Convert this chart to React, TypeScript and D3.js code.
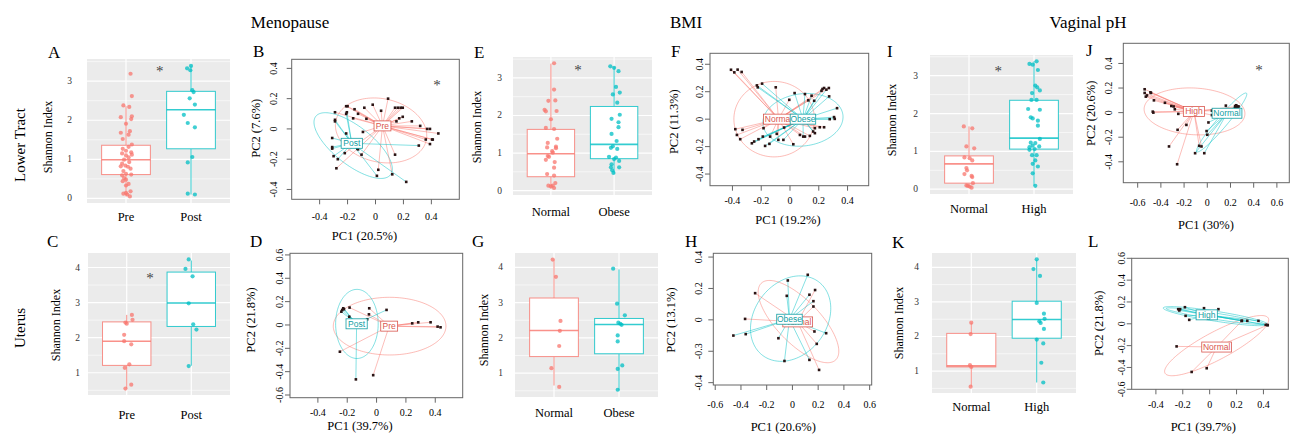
import React from 'react';
import * as d3 from 'd3';

const RED = '#F8766D';
const CYAN = '#00BFC4';
const RED_TXT = '#D9564E';
const CYAN_TXT = '#119EA3';
const SERIF = '"Liberation Serif", "Times New Roman", serif';
const SANS = '"Liberation Sans", Arial, sans-serif';

// ---------- titles ----------
const groupTitles = ['Menopause', 'BMI', 'Vaginal pH'];
const rowTitles = ['Lower Tract', 'Uterus'];

// ---------- box plot data: stats = [lowWhisker, q1, median, q3, highWhisker]; points = [value, jitter] ----------
const A_categories = ['Pre', 'Post'];
const A_stats = [[0.05, 0.61, 0.99, 1.36, 2.36], [0.1, 1.27, 2.27, 2.74, 3.4]];
const A_pre = [[3.19,0.07],[2.62,0.09],[2.38,-0.04],[2.34,0.05],[2.08,-0.08],[2.10,0.09],[2.03,0.08],[1.91,0.0],[1.72,0.06],[1.63,0.04],[1.68,-0.08],[1.52,-0.05],[1.38,0.09],[1.32,0.04],[1.27,-0.05],[1.22,0.0],[1.18,0.08],[1.15,-0.06],[1.12,0.09],[1.10,0.0],[1.05,0.04],[0.99,-0.03],[0.93,0.05],[0.89,-0.06],[0.84,-0.01],[0.82,-0.08],[0.81,0.03],[0.76,0.07],[0.70,-0.04],[0.63,0.0],[0.59,-0.06],[0.61,0.08],[0.52,-0.03],[0.44,-0.05],[0.48,0.0],[0.37,0.04],[0.33,0.0],[0.18,0.07],[0.14,0.0],[0.10,0.02],[0.05,0.06],[0.12,-0.04]];
const A_post = [[3.33,-0.06],[3.39,0.0],[3.28,-0.01],[2.77,0.02],[2.72,0.04],[2.56,-0.02],[2.40,0.06],[2.14,-0.11],[1.93,-0.05],[1.82,0.06],[1.06,0.02],[0.92,-0.05],[0.12,-0.05],[0.10,0.06]];

const E_categories = ['Normal', 'Obese'];
const E_stats = [[0.05, 0.37, 0.98, 1.63, 3.38], [0.45, 0.85, 1.23, 2.24, 3.3]];
const E_normal = [[3.39,0.05],[2.69,0.05],[2.39,-0.04],[2.40,0.07],[2.15,-0.1],[2.11,-0.08],[2.12,0.09],[1.90,0.0],[1.67,-0.08],[1.64,0.05],[1.38,0.1],[1.27,-0.05],[1.17,0.08],[1.13,0.08],[1.15,-0.06],[1.05,0.02],[1.01,0.03],[0.92,-0.05],[0.90,-0.03],[0.82,-0.08],[0.76,0.06],[0.61,0.05],[0.44,-0.06],[0.40,0.05],[0.20,0.07],[0.13,-0.04],[0.13,0.03],[0.07,0.05],[0.11,0.0]];
const E_obese = [[3.31,-0.06],[3.27,0.0],[3.18,0.07],[2.76,0.03],[2.61,0.09],[2.56,-0.02],[2.34,0.05],[2.02,0.09],[1.91,-0.04],[1.82,0.07],[1.69,0.07],[1.51,-0.04],[1.32,0.04],[1.18,-0.02],[1.11,0.05],[1.14,-0.05],[0.90,-0.08],[0.88,0.03],[0.84,0.0],[0.79,0.08],[0.70,-0.04],[0.62,-0.05],[0.62,0.08],[0.54,-0.03],[0.47,-0.01]];

const I_categories = ['Normal', 'High'];
const I_stats = [[0.04, 0.16, 0.67, 0.88, 1.66], [0.09, 1.06, 1.35, 2.35, 3.38]];
const I_normal = [[1.66,-0.08],[1.61,0.05],[1.13,-0.04],[1.08,0.08],[0.84,-0.07],[0.82,0.01],[0.76,0.05],[0.56,-0.04],[0.50,-0.03],[0.40,-0.07],[0.35,0.04],[0.32,0.05],[0.16,0.06],[0.10,-0.04],[0.07,0.01],[0.04,0.04],[0.09,-0.02]];
const I_high = [[3.31,-0.07],[3.29,-0.02],[3.38,0.04],[3.15,0.06],[2.74,0.02],[2.69,0.05],[2.61,0.09],[2.54,-0.03],[2.36,-0.04],[2.36,0.04],[2.12,-0.09],[2.10,0.09],[1.90,-0.05],[1.87,-0.02],[1.81,0.06],[1.68,0.06],[1.33,0.09],[1.23,-0.05],[1.22,0.02],[1.15,-0.02],[1.11,-0.07],[1.13,0.08],[1.06,0.01],[0.90,-0.03],[0.90,0.04],[0.76,0.02],[0.67,-0.02],[0.60,0.06],[0.42,-0.02],[0.09,0.02],[1.04,-0.07]];

const C_categories = ['Pre', 'Post'];
const C_stats = [[0.55, 1.21, 1.9, 2.45, 2.65], [1.2, 2.32, 2.99, 3.87, 4.2]];
const C_pre = [[2.65,0.08],[2.51,0.09],[2.43,-0.02],[2.40,0.0],[2.08,-0.04],[1.90,-0.04],[1.81,0.07],[1.24,0.04],[1.14,-0.03],[0.66,0.07],[0.55,-0.02]];
const C_post = [[4.23,-0.04],[3.96,-0.09],[3.75,0.02],[2.98,-0.04],[2.38,0.03],[2.23,0.08],[1.19,-0.04]];

const G_categories = ['Normal', 'Obese'];
const G_stats = [[0.65, 1.47, 2.21, 3.13, 4.22], [0.51, 1.55, 2.38, 2.55, 3.94]];
const G_normal = [[4.22,-0.02],[3.73,0.03],[2.48,0.1],[2.20,0.09],[1.77,0.08],[1.14,-0.04],[0.61,0.08]];
const G_obese = [[3.96,-0.09],[2.97,-0.03],[2.64,0.09],[2.43,-0.01],[2.40,0.02],[2.37,0.04],[2.07,-0.02],[1.90,-0.02],[1.22,0.05],[1.12,-0.02],[0.53,-0.02]];

const K_categories = ['Normal', 'High'];
const K_stats = [[0.55, 1.12, 1.15, 2.09, 2.4], [0.67, 1.95, 2.49, 3.02, 4.22]];
const K_normal = [[2.40,0.0],[2.07,-0.01],[1.17,-0.02],[1.12,0.0],[0.55,-0.01]];
const K_high = [[4.23,0.0],[3.95,-0.05],[3.75,0.05],[2.97,0.0],[2.66,0.11],[2.51,0.12],[2.44,0.04],[2.39,0.06],[2.22,0.11],[1.91,0.0],[1.80,0.1],[1.24,0.07],[0.67,0.1]];

const lowerTicks = [0, 1, 2, 3];
const upperTicks = [1, 2, 3, 4];

// ---------- PCA data: points [PC1, PC2], centroids, ellipses {c, a, b, angle} ----------
const B_pre = [[-0.29,0.11],[-0.21,0.15],[-0.2,0.15],[-0.15,0.13],[-0.125,0.10],[-0.08,0.14],[-0.02,0.16],[0.09,0.20],[0.04,0.12],[0.14,0.14],[0.16,0.14],[0.18,0.14],[0.195,0.14],[0.17,0.07],[0.195,0.08],[0.15,0.05],[0.26,0.05],[0.32,0.02],[0.37,0.0],[0.39,0.0],[0.45,-0.03],[0.36,-0.07],[0.405,-0.07],[0.41,-0.07],[0.39,-0.10],[0.14,-0.17],[0.02,-0.27],[0.12,-0.30],[-0.09,-0.02],[-0.10,-0.17],[-0.28,-0.26],[-0.22,-0.16],[-0.16,0.07],[-0.065,0.067]];
const B_post = [[-0.29,0.06],[-0.29,0.05],[-0.31,-0.06],[-0.31,-0.12],[-0.31,-0.13],[-0.30,-0.18],[-0.27,-0.20],[-0.21,0.10],[-0.205,0.11],[-0.21,-0.03],[-0.13,-0.13],[-0.125,-0.135],[0.01,-0.31],[0.22,-0.35],[0.31,-0.11]];
const B_centroids = [[0.05, 0.02], [-0.17, -0.095]];
const B_ellipses = [{ c: [0.04, -0.01], a: 0.33, b: 0.21, angle: -10 }, { c: [-0.16, -0.11], a: 0.33, b: 0.13, angle: -35 }];

const F_normal = [[-0.41,0.36],[-0.387,0.341],[-0.364,0.361],[-0.336,0.344],[-0.099,0.232],[-0.005,0.141],[0.127,0.137],[0.219,0.207],[0.237,0.227],[0.27,0.227],[-0.38,-0.073],[-0.369,-0.115],[-0.346,-0.146],[-0.33,-0.078],[-0.184,-0.066],[-0.138,-0.127],[-0.092,-0.107],[-0.081,-0.151],[0.023,-0.183],[0.104,-0.127],[0.138,-0.122],[0.173,-0.066],[0.207,-0.059],[0.237,-0.059],[0.069,-0.115]];
const F_obese = [[-0.23,0.246],[-0.224,0.232],[-0.194,0.259],[0.032,0.19],[0.104,0.183],[0.15,0.171],[0.168,0.134],[0.226,0.22],[0.253,0.215],[0.272,0.166],[0.327,0.08],[0.276,0.0],[0.306,0.015],[0.311,0.002],[-0.265,-0.176],[-0.249,-0.163],[-0.219,-0.146],[-0.189,-0.127],[-0.173,-0.195],[-0.143,-0.18],[-0.046,-0.151],[-0.041,-0.061],[0.161,-0.09],[0.173,-0.102],[0.092,-0.127]];
const F_centroids = [[-0.08, 0.0], [0.09, 0.0]];
const F_ellipses = [{ c: [-0.11, 0.0], a: 0.28, b: 0.275, angle: 0 }, { c: [0.09, -0.005], a: 0.28, b: 0.19, angle: 8 }];

const J_high = [[-0.54,0.19],[-0.54,0.16],[-0.52,0.14],[-0.53,0.13],[-0.49,0.165],[-0.485,0.16],[-0.46,0.10],[-0.365,0.08],[-0.31,0.054],[-0.29,0.05],[-0.28,0.027],[-0.47,0.008],[-0.465,0.0],[-0.25,-0.01],[-0.256,-0.14],[-0.18,-0.10],[-0.33,-0.275],[-0.26,-0.42],[-0.07,-0.27],[-0.05,-0.275],[-0.1,0.035],[0.04,0.016],[0.04,-0.02],[0.24,0.04],[0.26,0.05]];
const J_normal = [[0.24,0.054],[0.25,0.06],[0.27,0.05],[0.25,0.035],[0.16,0.057],[0.07,0.02],[0.01,-0.08],[-0.006,-0.15],[0.0,-0.18],[-0.105,-0.33],[-0.026,-0.33],[0.26,0.045]];
const J_centroids = [[-0.115, 0.01], [0.17, -0.005]];
const J_ellipses = [{ c: [-0.11, 0.01], a: 0.435, b: 0.19, angle: -3 }, { c: [0.124, -0.08], a: 0.32, b: 0.045, angle: 48 }];

const D_pre = [[-0.184,0.149],[-0.05,0.143],[-0.052,0.091],[0.243,0.014],[0.284,0.023],[0.368,0.023],[0.416,-0.014],[0.436,-0.02],[-0.25,-0.229],[-0.023,-0.43]];
const D_post = [[-0.227,0.143],[-0.234,0.129],[-0.222,0.135],[-0.24,0.114],[-0.186,0.071],[-0.064,0.049],[0.068,0.129],[-0.141,-0.466]];
const D_centroids = [[0.086, -0.01], [-0.136, 0.01]];
const D_ellipses = [{ c: [0.089, -0.01], a: 0.384, b: 0.247, angle: 0 }, { c: [-0.134, 0.009], a: 0.145, b: 0.296, angle: 0 }];

const H_normal = [[-0.29,0.17],[-0.368,0.006],[0.176,0.19],[0.163,0.085],[0.171,-0.074],[0.189,-0.153],[0.207,-0.319]];
const H_obese = [[0.119,0.287],[-0.036,0.251],[-0.044,0.153],[0.132,0.16],[0.163,0.119],[0.262,-0.085],[0.132,-0.255],[-0.062,-0.262],[-0.109,-0.117],[-0.363,-0.091],[-0.459,-0.1]];
const H_centroids = [[0.041, -0.013], [-0.023, 0.004]];
const H_ellipses = [{ c: [0.047, -0.011], a: 0.38, b: 0.15, angle: -38 }, { c: [-0.014, 0.008], a: 0.33, b: 0.25, angle: 30 }];

const L_normal = [[-0.246,-0.207],[-0.134,-0.441],[-0.022,-0.407],[0.24,0.027],[0.43,-0.012]];
const L_high = [[-0.234,0.134],[-0.226,0.122],[-0.22,0.134],[-0.184,0.152],[-0.179,0.073],[-0.152,0.036],[-0.042,0.143],[0.065,0.134],[0.238,0.027],[0.28,0.027],[0.363,0.027],[0.417,-0.009],[0.432,-0.012]];
const L_centroids = [[0.052, -0.213], [-0.022, 0.082]];
const L_ellipses = [{ c: [0.052, -0.2], a: 0.46, b: 0.12, angle: 34 }, { c: [0.042, 0.07], a: 0.395, b: 0.045, angle: -11 }, { c: [0.04, 0.07], a: 0.37, b: 0.028, angle: -11 }];

const ticks4 = [-0.4, -0.2, 0, 0.2, 0.4];
const ticks6 = [-0.6, -0.4, -0.2, 0, 0.2, 0.4, 0.6];
const H_yTickLabels = ['-0.4', '-0.3', '0', '0.2', '0.4'];

// ---------- layout ----------
const boxLayouts = {
  A: { x0: 87, x1: 230, y0: 59, y1: 203, letter: 'A', lx: 48, ly: 58, tickX: 72, ylabX: 51.5, ylabY: 137, catY: 221, star: [1.52, 3.35] },
  E: { x0: 513, x1: 652, y0: 57, y1: 195, letter: 'E', lx: 474, ly: 58, tickX: 502, ylabX: 480.5, ylabY: 127, catY: 215.5, star: [1.43, 3.31] },
  I: { x0: 930, x1: 1073, y0: 55, y1: 194, letter: 'I', lx: 887, ly: 57, tickX: 918, ylabX: 896, ylabY: 120, catY: 213, star: [1.45, 3.2] },
  C: { x0: 88, x1: 230, y0: 253, y1: 395, letter: 'C', lx: 47, ly: 247, tickX: 80, ylabX: 60, ylabY: 325, catY: 419, star: [1.36, 3.79] },
  G: { x0: 515, x1: 658, y0: 253, y1: 397, letter: 'G', lx: 472, ly: 247, tickX: 503, ylabX: 488, ylabY: 330, catY: 416.5, star: null },
  K: { x0: 932, x1: 1076, y0: 253, y1: 393, letter: 'K', lx: 892, ly: 247.5, tickX: 919, ylabX: 903, ylabY: 323, catY: 411, star: null },
};

const pcaLayouts = {
  B: { x0: 291.7, x1: 459.3, y0: 59.3, y1: 199.3, xlim: [-0.6, 0.6], ylim: [-0.465, 0.46], letter: 'B', lx: 253, ly: 57, ytlX: 276.5, xtlY: 219.5, xlab: 'PC1 (20.5%)', xlabX: 364.5, xlabY: 240, ylab: 'PC2 (7.6%)', ylabX: 259.5, ylabY: 128.3, star: [0.44, 0.31] },
  F: { x0: 710, x1: 868.7, y0: 53.3, y1: 185.7, xlim: [-0.556, 0.547], ylim: [-0.485, 0.48], letter: 'F', lx: 671, ly: 57, ytlX: 703, xtlY: 204, xlab: 'PC1 (19.2%)', xlabX: 788, xlabY: 224, ylab: 'PC2 (11.3%)', ylabX: 677.5, ylabY: 121.7, star: null },
  J: { x0: 1123.3, x1: 1289.3, y0: 43.3, y1: 182.7, xlim: [-0.724, 0.707], ylim: [-0.57, 0.564], letter: 'J', lx: 1086, ly: 56, ytlX: 1111.7, xtlY: 205.7, xlab: 'PC1 (30%)', xlabX: 1206, xlabY: 229, ylab: 'PC2 (20.6%)', ylabX: 1094.5, ylabY: 113.3, star: [0.446, 0.37] },
  D: { x0: 290, x1: 462.7, y0: 253.3, y1: 397.7, xlim: [-0.59, 0.587], ylim: [-0.623, 0.614], letter: 'D', lx: 250, ly: 247.3, ytlX: 283, xtlY: 416, xlab: 'PC1 (39.7%)', xlabX: 360, xlabY: 430, ylab: 'PC2 (21.8%)', ylabX: 254.5, ylabY: 320, star: null },
  H: { x0: 713.3, x1: 871.7, y0: 253.3, y1: 385, xlim: [-0.615, 0.616], ylim: [-0.415, 0.424], letter: 'H', lx: 685, ly: 247.3, ytlX: 701.7, xtlY: 407.7, xlab: 'PC1 (20.6%)', xlabX: 783.3, xlabY: 430.7, ylab: 'PC2 (13.1%)', ylabX: 675, ylabY: 320, star: null },
  L: { x0: 1131.7, x1: 1288.3, y0: 258.3, y1: 389.3, xlim: [-0.58, 0.585], ylim: [-0.6, 0.6], letter: 'L', lx: 1088, ly: 247.3, ytlX: 1125, xtlY: 407.7, xlab: 'PC1 (39.7%)', xlabX: 1203.3, xlabY: 430.7, ylab: 'PC2 (21.8%)', ylabX: 1103, ylabY: 323.3, star: null },
};

const fmt = (d: number) => (d === 0 ? '0' : (d < 0 ? '-' : '') + Math.abs(d).toFixed(1));

function BoxPanel({ L, cats, stats, groups, yTicks }: any) {
  const vals: number[] = groups.flatMap((g: number[][]) => g.map((p) => p[0])).concat(stats.flat());
  const [mn, mx] = d3.extent(vals) as [number, number];
  const pad = (mx - mn) * 0.05;
  const y = d3.scaleLinear().domain([mn - pad, mx + pad]).range([L.y1, L.y0]);
  const x = d3.scaleLinear().domain([0.4, 2.6]).range([L.x0, L.x1]);
  const [d0, d1] = y.domain();
  const minor = d3.range(Math.floor(d0) + 0.5, d1, 1).filter((v) => v > d0 && v < d1);
  const colors = [RED, CYAN];
  const bw = 0.375;
  return (
    <g>
      <text x={L.lx} y={L.ly} fontSize={17}>{L.letter}</text>
      <rect x={L.x0} y={L.y0} width={L.x1 - L.x0} height={L.y1 - L.y0} fill="#EBEBEB" />
      {minor.map((v) => (
        <line key={'m' + v} x1={L.x0} x2={L.x1} y1={y(v)} y2={y(v)} stroke="#fff" strokeWidth={0.6} />
      ))}
      {yTicks.map((v: number) => (
        <line key={'M' + v} x1={L.x0} x2={L.x1} y1={y(v)} y2={y(v)} stroke="#fff" strokeWidth={1.2} />
      ))}
      {cats.map((c: string, i: number) => (
        <line key={'c' + c} x1={x(i + 1)} x2={x(i + 1)} y1={L.y0} y2={L.y1} stroke="#fff" strokeWidth={1.2} />
      ))}
      {stats.map((s: number[], i: number) => {
        const cx = i + 1;
        return (
          <g key={'b' + i} stroke={colors[i]} strokeOpacity={0.8} strokeWidth={1}>
            <line x1={x(cx)} x2={x(cx)} y1={y(s[0])} y2={y(s[1])} />
            <line x1={x(cx)} x2={x(cx)} y1={y(s[3])} y2={y(s[4])} />
            <rect x={x(cx - bw)} y={y(s[3])} width={x(cx + bw) - x(cx - bw)} height={y(s[1]) - y(s[3])} fill="#fff" />
            <line x1={x(cx - bw)} x2={x(cx + bw)} y1={y(s[2])} y2={y(s[2])} strokeWidth={1.6} />
          </g>
        );
      })}
      {groups.map((g: number[][], i: number) =>
        g.map((p, j) => (
          <circle key={'p' + i + '-' + j} cx={x(i + 1 + p[1])} cy={y(p[0])} r={2.1} fill={colors[i]} fillOpacity={0.75} />
        ))
      )}
      {yTicks.map((v: number) => (
        <text key={'t' + v} x={L.tickX} y={y(v) + 3} fontSize={9.5} textAnchor="end" fill="#333">{v}</text>
      ))}
      {cats.map((c: string, i: number) => (
        <text key={'l' + c} x={x(i + 1)} y={L.catY} fontSize={12.5} textAnchor="middle">{c}</text>
      ))}
      <text transform={`translate(${L.ylabX},${L.ylabY}) rotate(-90)`} fontSize={12} textAnchor="middle">Shannon Index</text>
      {L.star && (
        <text x={x(L.star[0])} y={y(L.star[1])} dy="0.55em" fontSize={15} textAnchor="middle" fill="#444">*</text>
      )}
    </g>
  );
}

function ellipsePath(e: any, x: any, y: any) {
  const th = (e.angle * Math.PI) / 180;
  const pts = d3.range(0, 2 * Math.PI, Math.PI / 72).map((t) => [
    x(e.c[0] + e.a * Math.cos(t) * Math.cos(th) - e.b * Math.sin(t) * Math.sin(th)),
    y(e.c[1] + e.a * Math.cos(t) * Math.sin(th) + e.b * Math.sin(t) * Math.cos(th)),
  ]);
  return d3.line().curve(d3.curveLinearClosed)(pts as [number, number][]) || '';
}

function PcaPanel({ L, groups, xTicks, yTicks, yTickLabels }: any) {
  const x = d3.scaleLinear().domain(L.xlim).range([L.x0, L.x1]);
  const y = d3.scaleLinear().domain(L.ylim).range([L.y1, L.y0]);
  return (
    <g>
      <text x={L.lx} y={L.ly} fontSize={17}>{L.letter}</text>
      {groups.map((g: any, gi: number) =>
        g.ellipses.map((e: any, ei: number) => (
          <path key={'e' + gi + ei} d={ellipsePath(e, x, y)} fill="none" stroke={g.color} strokeOpacity={0.55} strokeWidth={0.9} />
        ))
      )}
      {groups.map((g: any, gi: number) =>
        g.points.map((p: number[], pi: number) => (
          <line key={'s' + gi + '-' + pi} x1={x(g.centroid[0])} y1={y(g.centroid[1])} x2={x(p[0])} y2={y(p[1])} stroke={g.color} strokeOpacity={0.6} strokeWidth={0.8} />
        ))
      )}
      {groups.map((g: any, gi: number) =>
        g.points.map((p: number[], pi: number) => (
          <rect key={'d' + gi + '-' + pi} x={x(p[0]) - 1.3} y={y(p[1]) - 1.3} width={2.6} height={2.6} fill="#2a1414" />
        ))
      )}
      {groups.map((g: any, gi: number) => {
        const w = g.name.length * 4.3 + 4;
        const cx = x(g.centroid[0]);
        const cy = y(g.centroid[1]);
        return (
          <g key={'lab' + gi}>
            <rect x={cx - w / 2} y={cy - 5} width={w} height={10} fill="#fff" stroke={g.textColor} strokeWidth={0.8} />
            <text x={cx} y={cy + 3} fontSize={8.5} fontFamily={SANS} textAnchor="middle" fill={g.textColor}>{g.name}</text>
          </g>
        );
      })}
      <rect x={L.x0} y={L.y0} width={L.x1 - L.x0} height={L.y1 - L.y0} fill="none" stroke="#666" strokeWidth={1} />
      {xTicks.map((v: number) => (
        <g key={'xt' + v}>
          <line x1={x(v)} x2={x(v)} y1={L.y1} y2={L.y1 + 5} stroke="#666" />
          <text x={x(v)} y={L.xtlY} fontSize={10} textAnchor="middle">{fmt(v)}</text>
        </g>
      ))}
      {yTicks.map((v: number, i: number) => (
        <g key={'yt' + v}>
          <line x1={L.x0 - 5} x2={L.x0} y1={y(v)} y2={y(v)} stroke="#666" />
          <text transform={`translate(${L.ytlX},${y(v)}) rotate(-90)`} fontSize={10} textAnchor="middle">
            {yTickLabels ? yTickLabels[i] : fmt(v)}
          </text>
        </g>
      ))}
      <text x={L.xlabX} y={L.xlabY} fontSize={12.5} textAnchor="middle">{L.xlab}</text>
      <text transform={`translate(${L.ylabX},${L.ylabY}) rotate(-90)`} fontSize={12.5} textAnchor="middle">{L.ylab}</text>
      {L.star && (
        <text x={x(L.star[0])} y={y(L.star[1])} dy="0.55em" fontSize={15} textAnchor="middle" fill="#444">*</text>
      )}
    </g>
  );
}

const mk = (name: string, color: string, textColor: string, points: number[][], centroid: number[], ellipses: any[]) => ({ name, color, textColor, points, centroid, ellipses });

export default function App() {
  const titleX = [290, 686, 1088];
  return (
    <svg width={1298} height={443} style={{ position: 'absolute', left: 0, top: 0 }} fontFamily={SERIF}>
      <rect width={1298} height={443} fill="#fff" />
      {groupTitles.map((t, i) => (
        <text key={t} x={titleX[i]} y={28} fontSize={17} textAnchor="middle">{t}</text>
      ))}
      <text transform="translate(24.5,145) rotate(-90)" fontSize={15} textAnchor="middle">{rowTitles[0]}</text>
      <text transform="translate(24.5,328) rotate(-90)" fontSize={15} textAnchor="middle">{rowTitles[1]}</text>

      <BoxPanel L={boxLayouts.A} cats={A_categories} stats={A_stats} groups={[A_pre, A_post]} yTicks={lowerTicks} />
      <BoxPanel L={boxLayouts.E} cats={E_categories} stats={E_stats} groups={[E_normal, E_obese]} yTicks={lowerTicks} />
      <BoxPanel L={boxLayouts.I} cats={I_categories} stats={I_stats} groups={[I_normal, I_high]} yTicks={lowerTicks} />
      <BoxPanel L={boxLayouts.C} cats={C_categories} stats={C_stats} groups={[C_pre, C_post]} yTicks={upperTicks} />
      <BoxPanel L={boxLayouts.G} cats={G_categories} stats={G_stats} groups={[G_normal, G_obese]} yTicks={upperTicks} />
      <BoxPanel L={boxLayouts.K} cats={K_categories} stats={K_stats} groups={[K_normal, K_high]} yTicks={upperTicks} />

      <PcaPanel L={pcaLayouts.B} xTicks={ticks4} yTicks={ticks4}
        groups={[mk('Pre', RED, RED_TXT, B_pre, B_centroids[0], [B_ellipses[0]]), mk('Post', CYAN, CYAN_TXT, B_post, B_centroids[1], [B_ellipses[1]])]} />
      <PcaPanel L={pcaLayouts.F} xTicks={ticks4} yTicks={ticks4}
        groups={[mk('Normal', RED, RED_TXT, F_normal, F_centroids[0], [F_ellipses[0]]), mk('Obese', CYAN, CYAN_TXT, F_obese, F_centroids[1], [F_ellipses[1]])]} />
      <PcaPanel L={pcaLayouts.J} xTicks={ticks6} yTicks={ticks4}
        groups={[mk('High', RED, RED_TXT, J_high, J_centroids[0], [J_ellipses[0]]), mk('Normal', CYAN, CYAN_TXT, J_normal, J_centroids[1], [J_ellipses[1]])]} />
      <PcaPanel L={pcaLayouts.D} xTicks={ticks4} yTicks={ticks6}
        groups={[mk('Pre', RED, RED_TXT, D_pre, D_centroids[0], [D_ellipses[0]]), mk('Post', CYAN, CYAN_TXT, D_post, D_centroids[1], [D_ellipses[1]])]} />
      <PcaPanel L={pcaLayouts.H} xTicks={ticks6} yTicks={ticks4} yTickLabels={H_yTickLabels}
        groups={[mk('Normal', RED, RED_TXT, H_normal, H_centroids[0], [H_ellipses[0]]), mk('Obese', CYAN, CYAN_TXT, H_obese, H_centroids[1], [H_ellipses[1]])]} />
      <PcaPanel L={pcaLayouts.L} xTicks={ticks4} yTicks={ticks6}
        groups={[mk('Normal', RED, RED_TXT, L_normal, L_centroids[0], [L_ellipses[0]]), mk('High', CYAN, CYAN_TXT, L_high, L_centroids[1], [L_ellipses[1], L_ellipses[2]])]} />
    </svg>
  );
}
